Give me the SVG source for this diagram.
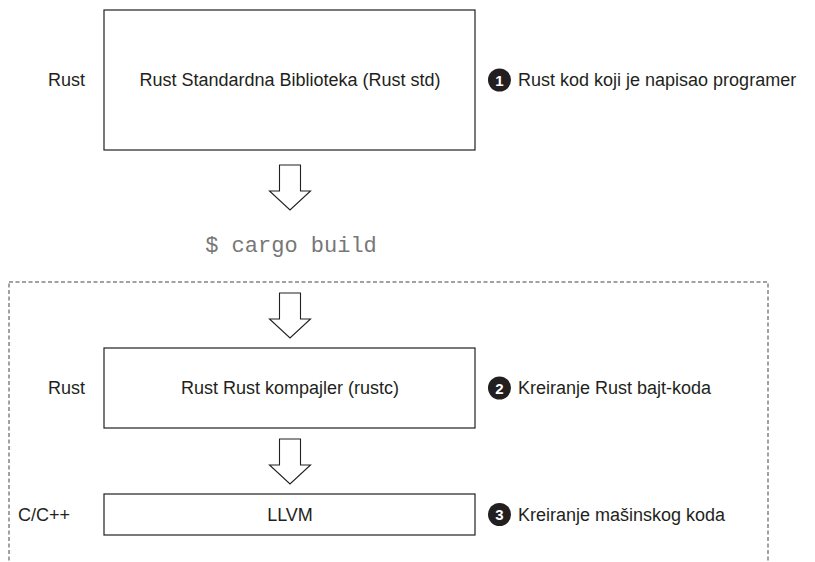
<svg xmlns="http://www.w3.org/2000/svg" width="815" height="562" viewBox="0 0 815 562">
<style>
.box{fill:#fff;stroke:#231f20;stroke-width:1.2}
.t{font-family:"Liberation Sans",Arial,sans-serif;font-size:18px;fill:#231f20}
.c{text-anchor:middle}
.num{font-family:"Liberation Sans",Arial,sans-serif;font-size:15px;font-weight:bold;fill:#fff;text-anchor:middle}
.mono{font-family:"Liberation Mono","Courier New",monospace;font-size:22px;fill:#777}
.arr{fill:#fff;stroke:#231f20;stroke-width:1.1}
.dash{fill:none;stroke:#444;stroke-width:1;stroke-dasharray:4 2.5}
</style>
<defs>
<path id="ar" d="M-10.5,0 H10.5 V26 H20.5 L0,45 L-20.5,26 H-10.5 Z"/>
</defs>
<rect class="dash" x="9" y="282" width="759" height="300"/>
<g id="connectors">
<use href="#ar" class="arr" transform="translate(290,165)"/>
<use href="#ar" class="arr" transform="translate(290,293)"/>
<use href="#ar" class="arr" transform="translate(290,439)"/>
</g>
<g id="std">
<text class="t c" x="66.5" y="86">Rust</text>
<rect class="box" x="104" y="10" width="371" height="140"/>
<text class="t c" x="290" y="86">Rust Standardna Biblioteka (Rust std)</text>
<circle cx="499.5" cy="80" r="11.5" fill="#231f20"/>
<text class="num" x="499.5" y="85.5">1</text>
<text class="t" x="518" y="86">Rust kod koji je napisao programer</text>
</g>
<g id="cargo">
<text class="mono c" x="291" y="252">$ cargo build</text>
</g>
<g id="rustc">
<text class="t c" x="66.5" y="394">Rust</text>
<rect class="box" x="104" y="348" width="371" height="80"/>
<text class="t c" x="290" y="394">Rust Rust kompajler (rustc)</text>
<circle cx="499.5" cy="388" r="11.5" fill="#231f20"/>
<text class="num" x="499.5" y="393.5">2</text>
<text class="t" x="518" y="394">Kreiranje Rust bajt-koda</text>
</g>
<g id="llvm">
<text class="t" x="18" y="521">C/C++</text>
<rect class="box" x="104" y="494" width="371" height="41"/>
<text class="t c" x="290" y="521">LLVM</text>
<circle cx="499.5" cy="514.5" r="11.5" fill="#231f20"/>
<text class="num" x="499.5" y="520">3</text>
<text class="t" x="518" y="521">Kreiranje mašinskog koda</text>
</g>
</svg>
